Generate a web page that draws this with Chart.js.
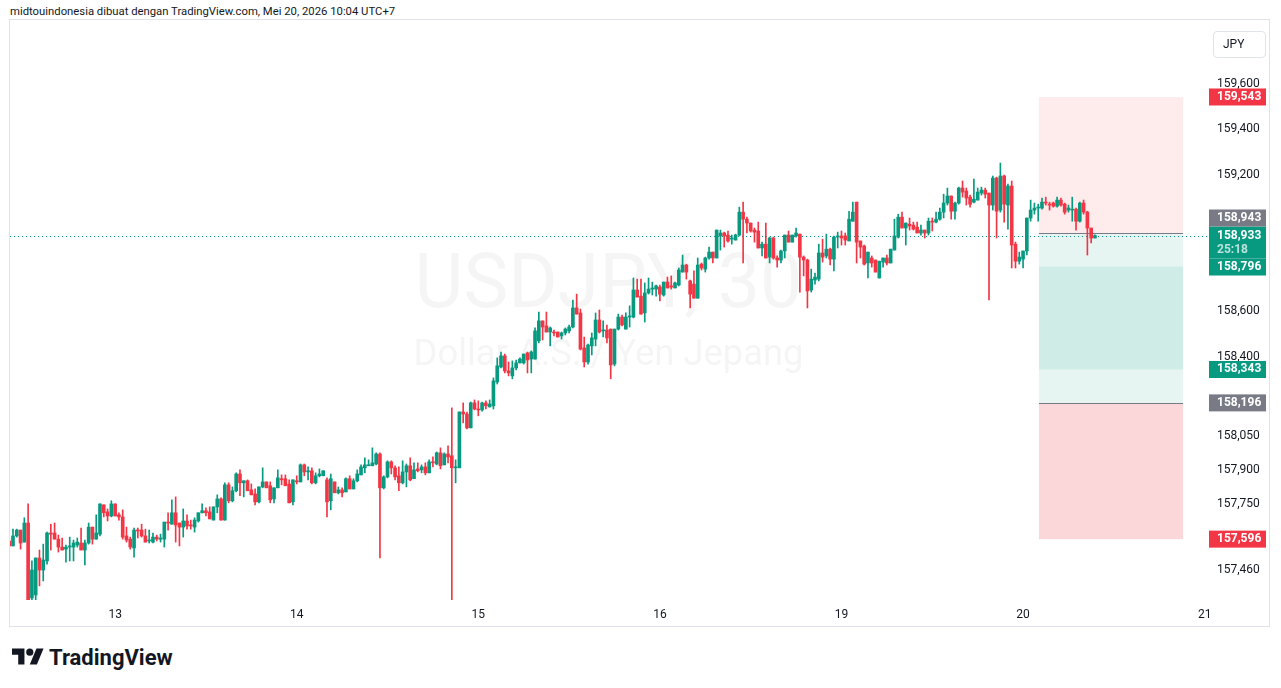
<!DOCTYPE html>
<html>
<head>
<meta charset="utf-8">
<script src="https://cdn.jsdelivr.net/npm/chart.js@4.4.1/dist/chart.umd.min.js"></script>
<style>
  body { margin: 0; width: 1281px; height: 688px; background: #fff; position: relative; overflow: hidden;
         font-family: Roboto, "Noto Sans", sans-serif; color: #131722; }
  #caption { position: absolute; left: 10px; top: 5px; font-size: 11.3px; white-space: nowrap; }
  #frame { position: absolute; left: 9px; top: 19px; width: 1261px; height: 608px; border: 1px solid #e0e3eb; box-sizing: border-box; }
  #chart { position: absolute; left: 10px; top: 20px; }
  #unit { position: absolute; left: 1213px; top: 31px; width: 53px; height: 27px; border: 1px solid #e0e3eb;
          border-radius: 4px; box-sizing: border-box; font-size: 12px; line-height: 25px; padding-left: 9px; }
  #brand { position: absolute; left: 12px; top: 645px; display: flex; align-items: center; gap: 5px;
           font-size: 22px; font-weight: 700; }
</style>
</head>
<body>
<div id="caption">midtouindonesia dibuat dengan TradingView.com, Mei 20, 2026 10:04 UTC+7</div>
<div id="frame"></div>
<canvas id="chart" width="1260" height="608"></canvas>
<div id="unit">JPY</div>
<div id="brand">
  <svg width="32" height="25" viewBox="0 0 36 28"><path d="M14 22H7V11H0V4h14v18zM28 22h-8l7.5-18h8L28 22z" fill="#131722"/><circle cx="20" cy="8" r="4" fill="#131722"/></svg>
  <span>TradingView</span>
</div>
<script>
// USDJPY 30m candles, bar 0 is the one cut at the left edge
const open = [
  157.588,157.566,157.610,157.636,157.583,157.667,157.337,157.350,157.513,157.460,157.500,157.623,
  157.623,157.596,157.561,157.552,157.561,157.561,157.570,157.579,157.548,157.579,157.649,157.596,
  157.618,157.747,157.716,157.698,157.751,157.703,157.694,157.610,157.596,157.557,157.636,157.636,
  157.610,157.588,157.583,157.605,157.596,157.596,157.671,157.662,157.712,157.667,157.649,157.676,
  157.658,157.649,157.676,157.712,157.721,157.716,157.680,157.738,157.773,157.680,157.835,157.765,
  157.809,157.883,157.844,157.853,157.813,157.795,157.760,157.826,157.848,157.831,157.773,157.822,
  157.862,157.862,157.839,157.760,157.853,157.848,157.923,157.892,157.897,157.844,157.875,157.875,
  157.857,157.765,157.848,157.800,157.813,157.804,157.862,157.817,157.853,157.879,157.910,157.919,
  157.919,157.927,157.971,157.822,157.870,157.936,157.910,157.875,157.844,157.892,157.919,157.862,
  157.905,157.901,157.914,157.888,157.936,157.927,157.976,157.923,157.971,157.963,157.910,157.910,
  158.156,158.147,158.086,158.196,158.169,158.165,158.196,158.178,158.183,158.288,158.354,158.403,
  158.337,158.315,158.350,158.372,158.372,158.416,158.389,158.389,158.469,158.557,158.535,158.508,
  158.508,158.508,158.491,158.504,158.513,158.530,158.614,158.592,158.438,158.376,158.447,158.477,
  158.561,158.513,158.517,158.521,158.367,158.521,158.574,158.521,158.574,158.574,158.693,158.666,
  158.592,158.680,158.697,158.697,158.706,158.671,158.728,158.711,158.702,158.715,158.772,158.803,
  158.733,158.719,158.657,158.807,158.785,158.834,158.860,158.834,158.931,158.944,158.935,158.917,
  158.913,158.935,159.036,159.005,158.988,158.957,158.953,158.878,158.895,158.838,158.922,158.834,
  158.825,158.865,158.935,158.904,158.931,158.939,158.838,158.825,158.693,158.737,158.741,158.856,
  158.843,158.873,158.829,158.926,158.931,158.931,158.909,158.996,159.080,158.909,158.887,158.812,
  158.834,158.825,158.746,158.816,158.834,158.812,158.869,158.926,159.014,158.966,158.983,158.979,
  158.970,158.944,158.957,158.944,158.996,158.992,159.005,159.036,159.076,159.107,159.040,159.076,
  159.142,159.129,159.102,159.080,159.089,159.120,159.133,159.120,159.067,159.186,159.045,159.195,
  159.067,159.151,158.895,158.820,158.829,158.865,159.010,159.045,159.054,159.054,159.080,159.071,
  159.076,159.062,159.089,159.071,159.045,159.045,159.049,158.996,159.076,159.036,158.966,158.922
];
const high = [
  157.601,157.640,157.640,157.636,157.690,157.751,157.500,157.513,157.548,157.574,157.627,157.662,
  157.667,157.614,157.601,157.570,157.605,157.592,157.601,157.645,157.592,157.667,157.649,157.703,
  157.751,157.747,157.729,157.765,157.751,157.712,157.725,157.649,157.605,157.645,157.645,157.662,
  157.640,157.636,157.623,157.614,157.618,157.671,157.712,157.769,157.782,157.667,157.729,157.703,
  157.680,157.690,157.712,157.751,157.734,157.738,157.738,157.791,157.778,157.844,157.844,157.826,
  157.888,157.901,157.853,157.857,157.839,157.817,157.826,157.910,157.848,157.848,157.822,157.901,
  157.879,157.879,157.857,157.857,157.875,157.927,157.927,157.914,157.910,157.888,157.905,157.897,
  157.866,157.883,157.848,157.826,157.822,157.866,157.875,157.862,157.901,157.923,157.954,157.945,
  157.998,157.976,157.976,157.875,157.941,157.941,157.919,157.914,157.941,157.927,157.954,157.932,
  157.932,157.923,157.932,157.945,157.958,157.980,157.998,157.976,158.007,158.174,157.945,158.156,
  158.196,158.156,158.200,158.209,158.205,158.200,158.205,158.209,158.306,158.394,158.420,158.411,
  158.376,158.381,158.385,158.394,158.411,158.420,158.425,158.526,158.596,158.557,158.596,158.530,
  158.517,158.508,158.508,158.526,158.539,158.649,158.675,158.609,158.486,158.455,158.504,158.592,
  158.605,158.557,158.539,158.521,158.521,158.587,158.583,158.592,158.623,158.746,158.741,158.741,
  158.724,158.746,158.728,158.715,158.715,158.728,158.750,158.755,158.728,158.790,158.847,158.807,
  158.737,158.777,158.834,158.812,158.838,158.882,158.860,158.957,158.957,158.948,158.953,158.935,
  158.939,159.058,159.080,159.014,158.988,158.966,158.992,158.904,158.988,158.926,158.926,158.843,
  158.869,158.935,158.953,158.935,158.966,158.939,158.843,158.829,158.785,158.768,158.895,158.917,
  158.939,158.878,158.931,158.948,158.953,158.944,159.040,159.080,159.080,158.909,158.891,158.860,
  158.843,158.825,158.820,158.834,158.847,158.873,159.005,159.027,159.036,158.988,159.010,158.992,
  158.992,158.979,158.957,159.010,159.010,159.036,159.054,159.115,159.142,159.107,159.080,159.146,
  159.173,159.142,159.111,159.181,159.142,159.146,159.142,159.120,159.195,159.190,159.252,159.199,
  159.159,159.173,158.904,158.860,158.865,159.010,159.089,159.076,159.071,159.098,159.102,159.080,
  159.080,159.102,159.098,159.076,159.067,159.102,159.054,159.080,159.089,159.040,158.966,158.936
];
const low = [
  157.557,157.566,157.605,157.552,157.583,157.306,157.306,157.306,157.390,157.412,157.486,157.548,
  157.596,157.539,157.548,157.495,157.500,157.500,157.561,157.548,157.482,157.574,157.574,157.596,
  157.610,157.694,157.676,157.694,157.698,157.680,157.596,157.583,157.552,157.517,157.601,157.605,
  157.583,157.579,157.579,157.588,157.583,157.561,157.636,157.662,157.583,157.566,157.605,157.640,
  157.640,157.627,157.671,157.712,157.698,157.685,157.680,157.712,157.680,157.680,157.756,157.760,
  157.804,157.787,157.782,157.809,157.791,157.747,157.756,157.822,157.822,157.756,157.756,157.822,
  157.835,157.831,157.756,157.747,157.839,157.848,157.875,157.857,157.839,157.839,157.870,157.875,
  157.694,157.725,157.800,157.795,157.782,157.804,157.817,157.817,157.848,157.879,157.888,157.919,
  157.919,157.923,157.513,157.817,157.866,157.883,157.857,157.809,157.839,157.826,157.853,157.862,
  157.892,157.888,157.879,157.888,157.914,157.923,157.905,157.923,157.932,157.306,157.844,157.910,
  158.108,158.081,158.086,158.165,158.139,158.160,158.169,158.178,158.169,158.279,158.350,158.328,
  158.315,158.302,158.341,158.372,158.367,158.328,158.328,158.389,158.460,158.473,158.508,158.447,
  158.491,158.486,158.477,158.495,158.504,158.526,158.587,158.429,158.354,158.367,158.407,158.447,
  158.504,158.486,158.460,158.302,158.359,158.517,158.535,158.521,158.530,158.570,158.662,158.587,
  158.552,158.675,158.671,158.666,158.645,158.666,158.702,158.697,158.702,158.711,158.772,158.741,
  158.614,158.657,158.657,158.781,158.772,158.829,158.812,158.834,158.869,158.882,158.904,158.895,
  158.913,158.931,158.812,158.944,158.948,158.904,158.878,158.843,158.834,158.812,158.829,158.794,
  158.812,158.834,158.904,158.904,158.926,158.684,158.755,158.614,158.684,158.719,158.733,158.816,
  158.834,158.803,158.777,158.878,158.891,158.891,158.909,158.996,158.812,158.834,158.803,158.746,
  158.794,158.772,158.746,158.794,158.803,158.812,158.869,158.922,158.966,158.891,158.957,158.957,
  158.944,158.935,158.922,158.935,158.953,158.988,159.001,159.010,159.067,159.005,159.005,159.071,
  159.102,159.067,159.058,159.076,159.089,159.111,159.098,158.649,159.045,158.922,159.036,158.992,
  158.961,158.790,158.790,158.807,158.790,158.847,158.996,159.027,158.996,159.049,159.067,159.045,
  159.058,159.058,159.062,159.027,159.036,158.996,158.957,158.992,159.027,158.847,158.900,158.922
];
const close = [
  157.566,157.610,157.636,157.579,157.667,157.328,157.460,157.513,157.460,157.504,157.623,157.618,
  157.596,157.561,157.548,157.561,157.566,157.579,157.583,157.548,157.579,157.649,157.596,157.623,
  157.751,157.712,157.698,157.751,157.698,157.694,157.605,157.592,157.561,157.636,157.632,157.610,
  157.583,157.592,157.605,157.596,157.601,157.671,157.667,157.712,157.658,157.649,157.676,157.654,
  157.654,157.680,157.712,157.721,157.712,157.685,157.738,157.773,157.680,157.835,157.765,157.809,
  157.883,157.844,157.853,157.809,157.791,157.760,157.826,157.848,157.822,157.769,157.822,157.866,
  157.857,157.831,157.756,157.857,157.848,157.923,157.892,157.897,157.844,157.875,157.883,157.897,
  157.760,157.862,157.800,157.813,157.800,157.862,157.817,157.853,157.883,157.914,157.923,157.923,
  157.932,157.971,157.822,157.870,157.936,157.910,157.870,157.844,157.892,157.919,157.857,157.901,
  157.897,157.914,157.888,157.936,157.932,157.976,157.919,157.971,157.958,157.910,157.914,158.156,
  158.147,158.086,158.196,158.169,158.165,158.196,158.183,158.191,158.293,158.359,158.403,158.337,
  158.328,158.350,158.372,158.389,158.411,158.385,158.420,158.513,158.557,158.530,158.508,158.526,
  158.504,158.486,158.504,158.521,158.530,158.614,158.587,158.433,158.376,158.451,158.482,158.561,
  158.508,158.517,158.482,158.363,158.521,158.574,158.539,158.574,158.579,158.693,158.662,158.587,
  158.680,158.697,158.702,158.711,158.675,158.728,158.702,158.706,158.724,158.781,158.803,158.772,
  158.675,158.657,158.803,158.790,158.834,158.860,158.834,158.957,158.944,158.931,158.909,158.922,
  158.935,159.036,159.005,158.988,158.953,158.948,158.878,158.895,158.834,158.922,158.834,158.825,
  158.865,158.935,158.904,158.935,158.944,158.838,158.825,158.689,158.741,158.750,158.856,158.838,
  158.873,158.829,158.926,158.931,158.922,158.913,159.005,159.036,158.904,158.882,158.807,158.860,
  158.812,158.772,158.820,158.834,158.812,158.873,158.931,159.014,158.966,158.988,158.975,158.961,
  158.944,158.957,158.944,158.996,158.992,159.005,159.036,159.076,159.107,159.040,159.076,159.142,
  159.124,159.098,159.071,159.093,159.124,159.133,159.115,159.067,159.186,159.040,159.195,159.071,
  159.151,158.891,158.820,158.838,158.865,159.010,159.045,159.054,159.058,159.080,159.076,159.067,
  159.062,159.089,159.067,159.036,159.054,159.049,158.996,159.076,159.036,158.966,158.922,158.933
];

// time axis: first bar of each day
const dayLabels = ['13', '14', '15', '16', '19', '20', '21'];
const dayStartBar = [28, 76, 124, 172, 220, 268, 316];
const barRange = [0.21, 316.62];

// price axis
const priceTicks = [159.6, 159.4, 159.2, 158.6, 158.4, 158.05, 157.9, 157.75, 157.46];
const priceRange = [157.328, 159.882];
const lastPrice = 158.933;
const countdown = '25:18';

// the two position tools: entry, stop, target
const shortTrade = [158.943, 159.543, 158.343];
const longTrade = [158.196, 157.596, 158.796];
const toolBars = [272.2, 310.3];

const symbolText = ['USDJPY, 30', 'Dollar A.S. / Yen Jepang'];

const UP = '#089981', DOWN = '#f23645', GREY = '#787b86', TEXT = '#131722';
const FONT = 'Roboto, "Noto Sans", sans-serif';

const idx = open.map((_, i) => i);
const candleColor = idx.map(i => close[i] >= open[i] ? UP : DOWN);

const fmt = v => v.toFixed(3).replace('.', ',');

const overlay = {
    id: 'overlay',
    beforeDatasetsDraw(chart) {
        const { ctx, chartArea: a, scales: { x, y } } = chart;
        ctx.save();

        // watermark
        const cx = (a.left + a.right) / 2, cy = (a.top + a.bottom) / 2;
        ctx.fillStyle = 'rgba(19,23,34,0.045)';
        ctx.textAlign = 'center';
        ctx.textBaseline = 'middle';
        ctx.font = `80px ${FONT}`;
        let s = 80 * 388 / ctx.measureText(symbolText[0]).width;
        ctx.font = `${s}px ${FONT}`;
        ctx.fillText(symbolText[0], cx, cy - 22);
        ctx.font = `40px ${FONT}`;
        s = 40 * 390 / ctx.measureText(symbolText[1]).width;
        ctx.font = `${s}px ${FONT}`;
        ctx.fillText(symbolText[1], cx, cy + 46);

        // position tools
        const x0 = x.getPixelForValue(toolBars[0]), x1 = x.getPixelForValue(toolBars[1]);
        const zone = (p1, p2, color) => {
            const y1 = y.getPixelForValue(p1), y2 = y.getPixelForValue(p2);
            ctx.fillStyle = color;
            ctx.fillRect(x0, Math.min(y1, y2), x1 - x0, Math.abs(y2 - y1));
        };
        zone(shortTrade[0], shortTrade[1], 'rgba(242,54,69,0.1)');
        zone(shortTrade[0], shortTrade[2], 'rgba(8,153,129,0.1)');
        zone(longTrade[0], longTrade[2], 'rgba(8,153,129,0.1)');
        zone(longTrade[0], longTrade[1], 'rgba(242,54,69,0.2)');
        ctx.strokeStyle = GREY;
        ctx.lineWidth = 1;
        [shortTrade[0], longTrade[0]].forEach(p => {
            const py = Math.round(y.getPixelForValue(p)) + 0.5;
            ctx.beginPath();
            ctx.moveTo(x0, py);
            ctx.lineTo(x1, py);
            ctx.stroke();
        });

        // last price line
        const ly = Math.round(y.getPixelForValue(lastPrice)) + 0.5;
        ctx.strokeStyle = UP;
        ctx.setLineDash([1, 3]);
        ctx.beginPath();
        ctx.moveTo(a.left, ly);
        ctx.lineTo(a.right, ly);
        ctx.stroke();
        ctx.restore();
    },
    afterDraw(chart) {
        const { ctx, chartArea: a, scales: { y } } = chart;
        const bx = a.right + 2, bw = 57;
        ctx.save();
        ctx.textBaseline = 'middle';
        ctx.textAlign = 'left';
        ctx.font = `bold 12px ${FONT}`;

        // last price with countdown
        const ly = y.getPixelForValue(lastPrice);
        const lastBox = [ly - 9, ly + 23];
        ctx.fillStyle = UP;
        ctx.fillRect(bx, lastBox[0], bw, lastBox[1] - lastBox[0]);
        ctx.fillStyle = '#fff';
        ctx.fillText(fmt(lastPrice), bx + 8, ly);
        ctx.fillStyle = 'rgba(255,255,255,0.72)';
        ctx.fillText(countdown, bx + 8, ly + 14);

        const tags = [
            [shortTrade[1], DOWN], [longTrade[1], DOWN],
            [shortTrade[0], GREY], [longTrade[0], GREY],
            [shortTrade[2], UP], [longTrade[2], UP]
        ];
        tags.forEach(([p, color]) => {
            const py = y.getPixelForValue(p);
            let top = py - 8.5;
            if (top < lastBox[1] && top + 17 > lastBox[0]) {
                top = py < ly ? lastBox[0] - 17 : lastBox[1];
            }
            ctx.fillStyle = color;
            ctx.fillRect(bx, top, bw, 17);
            ctx.fillStyle = '#fff';
            ctx.fillText(fmt(p), bx + 8, top + 8.5);
        });
        ctx.restore();
    }
};

new Chart(document.getElementById('chart'), {
    type: 'bar',
    data: {
        datasets: [
            {
                label: 'wick',
                data: idx.map(i => ({ x: i, y: [low[i], high[i]] })),
                backgroundColor: candleColor,
                barThickness: 1,
                grouped: false,
                order: 2,
            },
            {
                label: 'body',
                data: idx.map(i => ({ x: i, y: [open[i], close[i]] })),
                backgroundColor: candleColor,
                barThickness: 3,
                minBarLength: 1,
                grouped: false,
                order: 1,
            },
        ],
    },
    options: {
        responsive: false,
        animation: false,
        events: [],
        layout: { padding: 0 },
        plugins: {
            legend: { display: false },
            tooltip: { enabled: false },
        },
        scales: {
            x: {
                type: 'linear',
                min: barRange[0],
                max: barRange[1],
                offset: false,
                grid: { display: false, drawTicks: false },
                border: { display: false },
                afterFit: s => { s.height = 28; s.paddingLeft = 0; s.paddingRight = 0; },
                afterBuildTicks: s => { s.ticks = dayStartBar.map(v => ({ value: v })); },
                ticks: {
                    autoSkip: false,
                    maxRotation: 0,
                    padding: 8,
                    color: TEXT,
                    font: { size: 12, family: FONT },
                    callback: v => dayLabels[dayStartBar.indexOf(v)],
                },
            },
            y: {
                position: 'right',
                min: priceRange[0],
                max: priceRange[1],
                grid: { display: false, drawTicks: false },
                border: { display: false },
                // keep the plot flush with the frame: drop the label overhang padding
                afterFit: s => { s.width = 63; s.paddingTop = 0; s.paddingBottom = 0; },
                afterBuildTicks: s => { s.ticks = priceTicks.map(v => ({ value: v })); },
                ticks: {
                    autoSkip: false,
                    padding: 10,
                    color: TEXT,
                    font: { size: 12, family: FONT },
                    callback: v => fmt(v),
                },
            },
        },
    },
    plugins: [overlay],
});
</script>
</body>
</html>
